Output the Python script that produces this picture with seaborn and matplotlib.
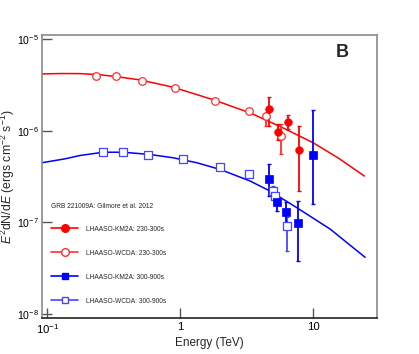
import numpy as np
import pandas as pd
import matplotlib
matplotlib.use("Agg")
import matplotlib.pyplot as plt
from matplotlib.lines import Line2D
from matplotlib.ticker import LogLocator, LogFormatterMathtext, NullFormatter
import seaborn as sns

# ---------------- data ----------------
# Model curves (Gilmore et al. 2012)
curve_red_E = [0.0912, 0.13, 0.176, 0.25, 0.333, 0.498, 0.885, 1.77, 3.35, 5.62, 10.0, 15.5, 24.2]
curve_red_F = [4.15e-6, 4.19e-6, 4.18e-6, 4.06e-6, 3.87e-6, 3.57e-6, 2.97e-6, 2.17e-6, 1.56e-6,
               1.11e-6, 7.36e-7, 5.0e-7, 3.20e-7]
curve_blue_E = [0.0912, 0.136, 0.176, 0.264, 0.372, 0.592, 0.885, 1.33, 1.99, 3.34, 4.72, 7.50,
                13.4, 24.5]
curve_blue_F = [4.47e-7, 4.93e-7, 5.36e-7, 5.82e-7, 5.82e-7, 5.50e-7, 5.06e-7, 4.47e-7, 3.78e-7,
                2.83e-7, 2.20e-7, 1.45e-7, 8.45e-8, 4.17e-8]

# LHAASO-KM2A 230-300s
km2a_a_E = [4.63, 5.45, 6.41, 7.85]
km2a_a_F = [1.72e-6, 9.75e-7, 1.24e-6, 6.22e-7]
km2a_a_hi = [2.32e-6, 1.18e-6, 1.49e-6, 1.11e-6]
km2a_a_lo = [1.11e-6, 8.0e-7, 1.03e-6, 2.20e-7]

# LHAASO-WCDA 230-300s
wcda_a_E = [0.232, 0.33, 0.513, 0.912, 1.81, 3.29, 4.41, 5.74]
wcda_a_F = [3.94e-6, 3.92e-6, 3.51e-6, 2.90e-6, 2.11e-6, 1.62e-6, 1.46e-6, 8.67e-7]
wcda_a_hi = [4.05e-6, 4.03e-6, 3.62e-6, 3.0e-6, 2.2e-6, 1.70e-6, 1.55e-6, 1.19e-6]
wcda_a_lo = [3.83e-6, 3.81e-6, 3.40e-6, 2.8e-6, 2.02e-6, 1.54e-6, 1.11e-6, 5.5e-7]

# LHAASO-KM2A 300-900s
km2a_b_E = [4.63, 5.31, 6.24, 7.64, 9.9]
km2a_b_F = [2.94e-7, 1.69e-7, 1.30e-7, 9.8e-8, 5.40e-7]
km2a_b_hi = [4.28e-7, 1.94e-7, 1.66e-7, 1.71e-7, 1.69e-6]
km2a_b_lo = [1.94e-7, 1.34e-7, 1.01e-7, 3.84e-8, 1.58e-7]

# LHAASO-WCDA 300-900s
wcda_b_E = [0.262, 0.372, 0.574, 1.05, 1.99, 3.29, 4.95, 5.15, 6.31]
wcda_b_F = [5.82e-7, 5.80e-7, 5.40e-7, 4.89e-7, 4.05e-7, 3.37e-7, 2.20e-7, 1.94e-7, 9.06e-8]
wcda_b_hi = [5.95e-7, 5.93e-7, 5.52e-7, 5.0e-7, 4.15e-7, 3.45e-7, 2.49e-7, 2.05e-7, 1.15e-7]
wcda_b_lo = [5.69e-7, 5.67e-7, 5.28e-7, 4.78e-7, 3.95e-7, 3.29e-7, 1.87e-7, 1.83e-7, 4.92e-8]

legend_title = "GRB 221009A: Gilmore et al. 2012"
labels = ["LHAASO-KM2A: 230-300s", "LHAASO-WCDA: 230-300s",
          "LHAASO-KM2A: 300-900s", "LHAASO-WCDA: 300-900s"]

# ---------------- style ----------------
sns.set_theme(style="white")
plt.rcParams['font.family'] = ['Liberation Sans', 'DejaVu Sans']
plt.rcParams['mathtext.fontset'] = 'custom'
plt.rcParams['mathtext.rm'] = 'Liberation Sans'
plt.rcParams['mathtext.it'] = 'Liberation Sans:italic'
plt.rcParams['mathtext.bf'] = 'Liberation Sans:bold'

RED = "#ff0000"
BLUE = "#0000ff"
LBLUE = "#4646ff"
LRED = "#ff3030"

fig = plt.figure(figsize=(4.19, 3.54), dpi=100)
ax = fig.add_axes([0.1002, 0.1017, 0.7996, 0.7993])

# curves
sns.lineplot(data=pd.DataFrame({"E": curve_red_E, "F": curve_red_F}), x="E", y="F",
             ax=ax, color=RED, lw=1.1, sort=False, estimator=None)
sns.lineplot(data=pd.DataFrame({"E": curve_blue_E, "F": curve_blue_F}), x="E", y="F",
             ax=ax, color=BLUE, lw=1.1, sort=False, estimator=None)

def errs(E, F, lo, hi, color):
    F = np.array(F); lo = np.array(lo); hi = np.array(hi)
    ax.errorbar(E, F, yerr=[F - lo, hi - F], fmt='none', ecolor=color,
                elinewidth=1.3, capsize=1.2, capthick=1.0, zorder=3)

errs(wcda_a_E, wcda_a_F, wcda_a_lo, wcda_a_hi, LRED)
errs(km2a_a_E, km2a_a_F, km2a_a_lo, km2a_a_hi, RED)
errs(wcda_b_E, wcda_b_F, wcda_b_lo, wcda_b_hi, LBLUE)
errs(km2a_b_E, km2a_b_F, km2a_b_lo, km2a_b_hi, BLUE)

sns.scatterplot(x=wcda_a_E, y=wcda_a_F, ax=ax, marker='o', s=30,
                facecolor='white', edgecolor=LRED, linewidth=0.9, zorder=4)
sns.scatterplot(x=km2a_a_E, y=km2a_a_F, ax=ax, marker='o', s=30,
                color=RED, edgecolor=RED, linewidth=0.5, zorder=5)
sns.scatterplot(x=wcda_b_E, y=wcda_b_F, ax=ax, marker='s', s=26,
                facecolor='white', edgecolor=LBLUE, linewidth=0.9, zorder=4)
sns.scatterplot(x=km2a_b_E, y=km2a_b_F, ax=ax, marker='s', s=28,
                color=BLUE, edgecolor=BLUE, linewidth=0.5, zorder=5)

ax.set_xscale('log')
ax.set_yscale('log')
ax.set_xlim(0.0913, 30.1)
ax.set_ylim(9.1e-9, 1.1e-5)

# ticks
ax.xaxis.set_major_locator(LogLocator(base=10, numticks=10))
ax.xaxis.set_minor_locator(LogLocator(base=10, subs=np.arange(2, 10), numticks=20))
ax.yaxis.set_major_locator(LogLocator(base=10, numticks=10))
ax.yaxis.set_minor_locator(LogLocator(base=10, subs=np.arange(2, 10), numticks=20))
ax.xaxis.set_major_formatter(matplotlib.ticker.FuncFormatter(
    lambda v, p: {0.1: r"$10^{-1}$", 1: "1", 10: "10"}.get(round(v, 3), "")))
ax.yaxis.set_major_formatter(LogFormatterMathtext())
ax.xaxis.set_minor_formatter(NullFormatter())
ax.yaxis.set_minor_formatter(NullFormatter())
ax.tick_params(axis='both', which='major', direction='in', length=7, width=1.0,
               colors='#555555', labelcolor='black', pad=3)
ax.tick_params(axis='x', which='major', labelsize=8.2)
ax.tick_params(axis='y', which='major', labelsize=7.6, pad=2.5)
ax.tick_params(axis='both', which='minor', direction='in', length=4, width=0.9,
               colors='#555555')
ax.tick_params(top=False, right=False, left=True, bottom=True)

for side in ['left', 'top', 'right']:
    ax.spines[side].set_color('#8a8a8a')
    ax.spines[side].set_linewidth(1.2)
ax.spines['bottom'].set_color('#222222')
ax.spines['bottom'].set_linewidth(1.2)

ax.set_xlabel("Energy (TeV)", fontsize=8.5, labelpad=1)
ax.set_ylabel(r"$E^{2}$dN/d$E$ (ergs cm$^{-2}$ s$^{-1}$)", fontsize=8.8)
ax.yaxis.set_label_coords(-0.074, 0.5)

ax.text(0.896, 0.94, "B", transform=ax.transAxes, fontsize=13, fontweight='bold',
        ha='center', va='center')

handles = [
    Line2D([0], [0], color=RED, lw=1.2, marker='o', markersize=5.5,
           markerfacecolor=RED, markeredgecolor=RED),
    Line2D([0], [0], color=LRED, lw=1.2, marker='o', markersize=5.5,
           markerfacecolor='white', markeredgecolor=LRED),
    Line2D([0], [0], color=BLUE, lw=1.2, marker='s', markersize=5,
           markerfacecolor=BLUE, markeredgecolor=BLUE),
    Line2D([0], [0], color=LBLUE, lw=1.2, marker='s', markersize=5,
           markerfacecolor='white', markeredgecolor=LBLUE),
]
leg = ax.legend(handles, labels, title=legend_title, loc='upper left',
                bbox_to_anchor=(0.028, 0.405), frameon=False, fontsize=4.8,
                title_fontproperties={'size': 4.8}, alignment='left',
                handlelength=4.0, handletextpad=1.2, labelspacing=2.55,
                borderpad=0, borderaxespad=0)
leg._legend_box.sep = 11

fig.savefig("out.png", dpi=100)
